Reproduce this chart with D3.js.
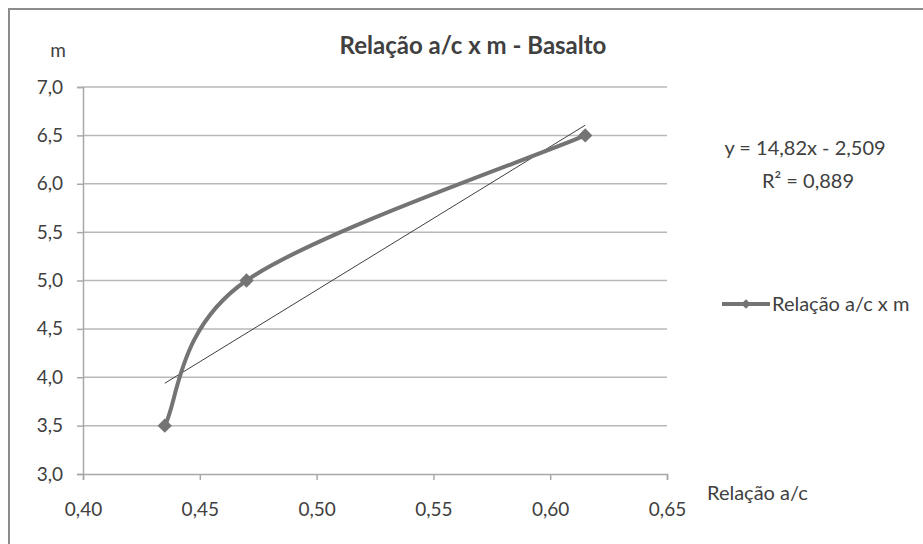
<!DOCTYPE html>
<html><head><meta charset="utf-8">
<script src="https://cdn.jsdelivr.net/npm/d3@7"></script>
<style>
html,body{margin:0;padding:0;background:#fff;}
text{font-family:Lato,"Open Sans",sans-serif;fill:#404040;}
</style></head>
<body>
<script>
const xValues = [0.435, 0.47, 0.615];
const yValues = [3.5, 5.0, 6.5];
const xTicks = [0.40, 0.45, 0.50, 0.55, 0.60, 0.65];
const yTicks = [3.0, 3.5, 4.0, 4.5, 5.0, 5.5, 6.0, 6.5, 7.0];
const trendSlope = 14.82, trendIntercept = -2.509;
const title = "Relação a/c x m - Basalto";
const seriesName = "Relação a/c x m";
const equationText = "y = 14,82x - 2,509";
const r2Text = "R² = 0,889";

const W = 923, H = 544;
const svg = d3.select("body").append("svg").attr("width", W).attr("height", H);
svg.append("rect").attr("width", W).attr("height", H).attr("fill", "#fff");
// outer frame (top & left visible)
svg.append("path").attr("d", `M9,${H} V9 H${W}`).attr("fill","none").attr("stroke","#8c8c8c").attr("stroke-width",2);

const x = d3.scaleLinear().domain([0.40, 0.65]).range([83, 667]);
const y = d3.scaleLinear().domain([3.0, 7.0]).range([474, 87]);
const fmt = v => d3.format(".2f")(v).replace(".", ",");
const fmtY = v => d3.format(".1f")(v).replace(".", ",");

// Excel-like smoothing curve (Bezier, control points = neighbour difference / 6)
function ExcelSmooth(context) { this._context = context; }
ExcelSmooth.prototype = {
  areaStart() {}, areaEnd() {},
  lineStart() { this._p = []; },
  point(px, py) { this._p.push([+px, +py]); },
  lineEnd() {
    const p = this._p, n = p.length, c = this._context;
    if (!n) return;
    c.moveTo(p[0][0], p[0][1]);
    for (let i = 0; i < n - 1; i++) {
      const a = p[Math.max(i - 1, 0)], b = p[i], d = p[i + 1], e = p[Math.min(i + 2, n - 1)];
      c.bezierCurveTo(
        b[0] + (d[0] - a[0]) / 6, b[1] + (d[1] - a[1]) / 6,
        d[0] - (e[0] - b[0]) / 6, d[1] - (e[1] - b[1]) / 6,
        d[0], d[1]);
    }
  }
};
const excelSmooth = ctx => new ExcelSmooth(ctx);

// gridlines
svg.append("g").selectAll("line").data(yTicks.filter(t => t > 3.0)).join("line")
  .attr("x1", x(0.40)).attr("x2", x(0.65)).attr("y1", d => y(d)).attr("y2", d => y(d))
  .attr("stroke", "#b8b8b8").attr("stroke-width", 1.5);

// axes
const xAxis = svg.append("g").attr("transform", `translate(0,${y(3.0)})`)
  .call(d3.axisBottom(x).tickValues(xTicks).tickFormat(fmt).tickSize(6).tickPadding(23));
const yAxis = svg.append("g").attr("transform", `translate(${x(0.40)},0)`)
  .call(d3.axisLeft(y).tickValues(yTicks).tickFormat(fmtY).tickSize(6).tickPadding(14));
[xAxis, yAxis].forEach(g => {
  g.select(".domain").attr("stroke", "#a8a8a8").attr("stroke-width", 1.5);
  g.selectAll(".tick line").attr("stroke", "#a8a8a8").attr("stroke-width", 1.5);
  g.selectAll("text").style("font-family", "Lato, sans-serif").style("font-size", "19px").attr("fill", "#404040");
});

// trendline
svg.append("line")
  .attr("x1", x(xValues[0])).attr("y1", y(trendSlope * xValues[0] + trendIntercept))
  .attr("x2", x(xValues[xValues.length - 1])).attr("y2", y(trendSlope * xValues[xValues.length - 1] + trendIntercept))
  .attr("stroke", "#404040").attr("stroke-width", 1);

// smoothed series line
const pts = xValues.map((v, i) => [v, yValues[i]]);
const line = d3.line().x(d => x(d[0])).y(d => y(d[1])).curve(excelSmooth);
svg.append("path").datum(pts).attr("d", line).attr("fill", "none")
  .attr("stroke", "#747474").attr("stroke-width", 4);

const diamond = d3.symbol().type(d3.symbolDiamond2).size(130);
svg.append("g").selectAll("path").data(pts).join("path")
  .attr("d", diamond).attr("transform", d => `translate(${x(d[0])},${y(d[1])})`)
  .attr("fill", "#747474");

// title & labels
svg.append("text").attr("x", 473).attr("y", 54).attr("text-anchor", "middle")
  .style("font-size", "24px").style("font-weight", "bold").attr("fill", "#111").text(title);
svg.append("text").attr("x", 58).attr("y", 57).attr("text-anchor", "middle")
  .style("font-size", "19px").text("m");
svg.append("text").attr("x", 707).attr("y", 500)
  .style("font-size", "20px").text("Relação a/c");
svg.append("text").attr("x", 805).attr("y", 155).attr("text-anchor", "middle")
  .style("font-size", "20px").text(equationText);
svg.append("text").attr("x", 808).attr("y", 188).attr("text-anchor", "middle")
  .style("font-size", "20px").text(r2Text);

// legend
svg.append("line").attr("x1", 722).attr("x2", 770).attr("y1", 304).attr("y2", 304)
  .attr("stroke", "#747474").attr("stroke-width", 4);
svg.append("path").attr("d", d3.symbol().type(d3.symbolDiamond2).size(60))
  .attr("transform", "translate(746,304)").attr("fill", "#747474");
svg.append("text").attr("x", 772).attr("y", 311)
  .style("font-size", "20px").text(seriesName);
</script>
</body></html>
